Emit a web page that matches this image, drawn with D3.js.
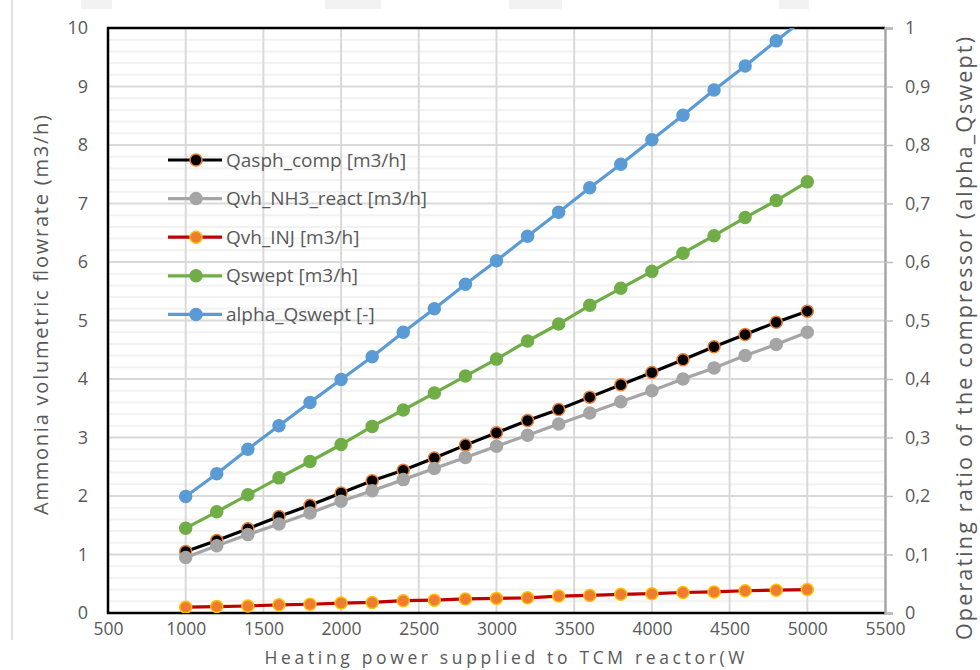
<!DOCTYPE html>
<html>
<head>
<meta charset="utf-8">
<script src="https://cdn.jsdelivr.net/npm/d3@7"></script>
<style>
  body { margin: 0; background: #fff; }
  svg text { font-family: "Open Sans", Lato, sans-serif; fill: #595959; }
</style>
</head>
<body>
<script>
const width = 980
const height = 670
const margin = {left: 108, right: 95, top: 28, bottom: 57}

const power = [1000, 1200, 1400, 1600, 1800, 2000, 2200, 2400, 2600, 2800, 3000,
    3200, 3400, 3600, 3800, 4000, 4200, 4400, 4600, 4800, 5000]
const qasphComp = [1.05, 1.24, 1.44, 1.65, 1.84, 2.05, 2.26, 2.44, 2.65, 2.87, 3.08,
    3.29, 3.48, 3.69, 3.90, 4.11, 4.33, 4.55, 4.76, 4.97, 5.16]
const qvhReact = [0.95, 1.15, 1.34, 1.52, 1.71, 1.91, 2.09, 2.28, 2.47, 2.66, 2.85,
    3.04, 3.23, 3.42, 3.61, 3.80, 4.00, 4.19, 4.40, 4.59, 4.80]
const qvhInj = [0.10, 0.11, 0.12, 0.14, 0.15, 0.17, 0.18, 0.21, 0.22, 0.24, 0.25,
    0.26, 0.29, 0.30, 0.32, 0.33, 0.35, 0.36, 0.38, 0.39, 0.40]
const qswept = [1.45, 1.73, 2.02, 2.31, 2.59, 2.88, 3.19, 3.47, 3.76, 4.05, 4.34,
    4.65, 4.94, 5.26, 5.55, 5.84, 6.15, 6.45, 6.76, 7.05, 7.37]
const alphaQswept = [0.199, 0.238, 0.280, 0.320, 0.360, 0.399, 0.438, 0.480, 0.520, 0.562, 0.602,
    0.644, 0.685, 0.727, 0.767, 0.809, 0.851, 0.894, 0.935, 0.978, 1.02]

const xTicks = [500, 1000, 1500, 2000, 2500, 3000, 3500, 4000, 4500, 5000, 5500]
const yTicks = [0, 1, 2, 3, 4, 5, 6, 7, 8, 9, 10]
const y2Ticks = [0, 0.1, 0.2, 0.3, 0.4, 0.5, 0.6, 0.7, 0.8, 0.9, 1]

const series = [
    {name: 'Qasph_comp [m3/h]', values: qasphComp, axis: 'left', line: '#000000', fill: '#000000', stroke: '#ED7D31'},
    {name: 'Qvh_NH3_react [m3/h]', values: qvhReact, axis: 'left', line: '#A5A5A5', fill: '#A5A5A5', stroke: '#A5A5A5'},
    {name: 'Qvh_INJ [m3/h]', values: qvhInj, axis: 'left', line: '#C00000', fill: '#ED7D31', stroke: '#FFC000'},
    {name: 'Qswept [m3/h]', values: qswept, axis: 'left', line: '#70AD47', fill: '#70AD47', stroke: '#70AD47'},
    {name: 'alpha_Qswept [-]', values: alphaQswept, axis: 'right', line: '#5B9BD5', fill: '#5B9BD5', stroke: '#5B9BD5'}
]

const x0 = margin.left
const x1 = width - margin.right
const y0 = height - margin.bottom
const y1 = margin.top

const x = d3.scaleLinear().domain([500, 5500]).range([x0, x1])
const y = d3.scaleLinear().domain([0, 10]).range([y0, y1])
const y2 = d3.scaleLinear().domain([0, 1]).range([y0, y1])

const svg = d3.select('body').append('svg')
    .attr('width', width)
    .attr('height', height)

// faint page marks behind the chart
const marks = [[81, 31], [325, 56], [509, 53], [779, 30]]
svg.selectAll('rect.mark')
    .data(marks)
    .enter().append('rect')
    .attr('x', d => d[0]).attr('y', 0)
    .attr('width', d => d[1]).attr('height', 9)
    .attr('fill', '#f2f2f2')
svg.append('line')
    .attr('x1', 12).attr('x2', 12).attr('y1', 0).attr('y2', 640)
    .attr('stroke', '#d9d9d9').attr('stroke-width', 1.5)

svg.append('clipPath').attr('id', 'plot')
    .append('rect')
    .attr('x', x0).attr('y', y1)
    .attr('width', x1 - x0).attr('height', y0 - y1)

// minor horizontal gridlines
const minor = d3.range(0, 10.01, 0.2).filter(v => Math.abs(v - Math.round(v)) > 0.01)
svg.append('g').selectAll('line')
    .data(minor)
    .enter().append('line')
    .attr('x1', x0).attr('x2', x1)
    .attr('y1', d => y(d)).attr('y2', d => y(d))
    .attr('stroke', '#f2f2f2').attr('stroke-width', 2)

svg.append('g').selectAll('line')
    .data(yTicks.slice(1, -1))
    .enter().append('line')
    .attr('x1', x0).attr('x2', x1)
    .attr('y1', d => y(d)).attr('y2', d => y(d))
    .attr('stroke', '#d9d9d9').attr('stroke-width', 2)

svg.append('g').selectAll('line')
    .data(xTicks.slice(1, -1))
    .enter().append('line')
    .attr('x1', d => x(d)).attr('x2', d => x(d))
    .attr('y1', y1).attr('y2', y0)
    .attr('stroke', '#d9d9d9').attr('stroke-width', 2)

// plot border
svg.append('path')
    .attr('d', `M${x1},${y1}H${x0}V${y0}H${x1}`)
    .attr('fill', 'none').attr('stroke', '#000').attr('stroke-width', 2.5)

// axes
const xAxis = svg.append('g')
    .attr('transform', `translate(0,${y0})`)
    .call(d3.axisBottom(x).tickValues(xTicks).tickSize(0).tickPadding(10).tickFormat(d3.format('d')))
xAxis.select('.domain').remove()

const yAxis = svg.append('g')
    .attr('transform', `translate(${x0},0)`)
    .call(d3.axisLeft(y).tickValues(yTicks).tickSize(0).tickPadding(20))
yAxis.select('.domain').remove()

const fmt = v => d3.format('.1~f')(v).replace('.', ',')
const y2Axis = svg.append('g')
    .attr('transform', `translate(${x1},0)`)
    .call(d3.axisRight(y2).tickValues(y2Ticks).tickSize(8).tickPadding(12).tickFormat(fmt))
y2Axis.select('.domain').attr('stroke', '#A6A6A6').attr('stroke-width', 2.5)
y2Axis.selectAll('.tick line').attr('stroke', '#BFBFBF').attr('stroke-width', 1.5)

svg.selectAll('.tick text')
    .style('font-size', '18px')
    .attr('fill', '#595959')
xAxis.selectAll('.tick text').style('font-size', '17.5px')

// axis titles
svg.append('text')
    .attr('transform', `translate(${x0 + (x1 - x0) / 2 + 8},${height - 6}) `)
    .attr('text-anchor', 'middle')
    .attr('textLength', 480).attr('lengthAdjust', 'spacing')
    .style('font-size', '17.5px')
    .text('Heating  power supplied to TCM reactor(W')

svg.append('text')
    .attr('transform', `translate(48,${y0 - 98}) rotate(-90)`)
    .attr('text-anchor', 'start')
    .attr('textLength', 400).attr('lengthAdjust', 'spacing')
    .style('font-size', '20px')
    .text('Ammonia  volumetric flowrate (m3/h)')

svg.append('text')
    .attr('transform', `translate(972,${640}) rotate(-90)`)
    .attr('text-anchor', 'start')
    .attr('textLength', 603).attr('lengthAdjust', 'spacing')
    .style('font-size', '21.5px')
    .text('Operating ratio of the compressor (alpha_Qswept)')

// series
const plot = svg.append('g').attr('clip-path', 'url(#plot)')
series.forEach(s => {
    const sy = s.axis === 'left' ? y : y2
    const pts = power.map((p, i) => [p, s.values[i]])
    plot.append('path')
        .datum(pts)
        .attr('d', d3.line().x(d => x(d[0])).y(d => sy(d[1])))
        .attr('fill', 'none')
        .attr('stroke', s.line)
        .attr('stroke-width', 3.2)
    plot.append('g').selectAll('circle')
        .data(pts)
        .enter().append('circle')
        .attr('cx', d => x(d[0])).attr('cy', d => sy(d[1]))
        .attr('r', 6)
        .attr('fill', s.fill)
        .attr('stroke', s.stroke)
        .attr('stroke-width', 1.5)
})

// legend
const legend = svg.append('g')
const rowY = d => 160 + d * 38.6
series.forEach((s, i) => {
    const g = legend.append('g').attr('transform', `translate(0,${rowY(i)})`)
    g.append('line')
        .attr('x1', 168).attr('x2', 222)
        .attr('stroke', s.line).attr('stroke-width', 3.2)
    g.append('circle')
        .attr('cx', 196).attr('r', 6)
        .attr('fill', s.fill).attr('stroke', s.stroke).attr('stroke-width', 1.5)
    g.append('text')
        .attr('x', 226).attr('dy', '0.35em')
        .style('font-size', '19px')
        .text(s.name)
})
</script>
</body>
</html>
